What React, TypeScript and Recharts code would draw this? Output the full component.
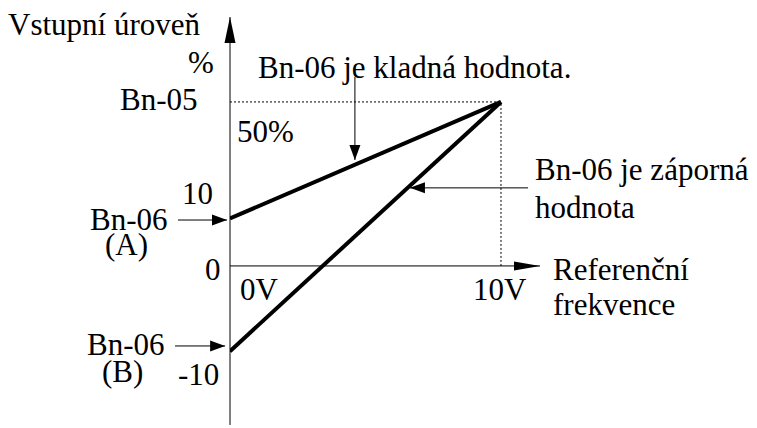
import React from 'react'
import {
  LineChart,
  Line,
  XAxis,
  YAxis,
  ReferenceLine,
  ReferenceDot,
} from 'recharts'

// reference voltage (V) and input level (% of Bn-05 = 100)
const voltage = [0, 10]
const levelPositive = [29, 100] // Bn-06 (A) > 0
const levelNegative = [-52, 100] // Bn-06 (B) < 0
const gainLevel = 100

const xDomain = [0, 11.44]
const yDomain = [-97, 151.8]

// annotation arrows, in data units: [x1, y1, x2 (tip), y2 (tip)]
const arrowA = [-1.92, 28, -0.11, 28]
const arrowB = [-2.03, -48.8, -0.18, -48.8]
const arrowPos = [4.61, 115.2, 4.61, 64.6]
const arrowNeg = [11.0, 47.6, 6.64, 47.6]

const labels = [
  { text: 'Vstupní úroveň', x: 8, y: 35 },
  { text: '%', x: 188, y: 73 },
  { text: 'Bn-06 je kladná hodnota.', x: 258, y: 78 },
  { text: 'Bn-05', x: 120, y: 110 },
  { text: '50%', x: 237, y: 142 },
  { text: '10', x: 182, y: 204 },
  { text: 'Bn-06', x: 90, y: 230 },
  { text: '(A)', x: 105, y: 255 },
  { text: '0', x: 205, y: 280 },
  { text: '0V', x: 240, y: 300 },
  { text: '10V', x: 473, y: 300 },
  { text: 'Referenční', x: 553, y: 280 },
  { text: 'frekvence', x: 553, y: 315 },
  { text: 'Bn-06 je záporná', x: 535, y: 180 },
  { text: 'hodnota', x: 535, y: 218 },
  { text: 'Bn-06', x: 87, y: 355 },
  { text: '(B)', x: 102, y: 382 },
  { text: '-10', x: 178, y: 385 },
]

const data = voltage.map((v, i) => ({ v, a: levelPositive[i], b: levelNegative[i] }))

// triangle head pointing in a direction
const head = (dir: 'up' | 'down' | 'left' | 'right', len: number, half: number) =>
  (props: any) => {
    const { cx, cy } = props
    let d = ''
    if (dir === 'up') d = `M${cx},${cy} L${cx - half},${cy + len} L${cx + half},${cy + len} Z`
    if (dir === 'down') d = `M${cx},${cy} L${cx - half},${cy - len} L${cx + half},${cy - len} Z`
    if (dir === 'left') d = `M${cx},${cy} L${cx + len},${cy - half} L${cx + len},${cy + half} Z`
    if (dir === 'right') d = `M${cx},${cy} L${cx - len},${cy - half} L${cx - len},${cy + half} Z`
    return <path d={d} fill="#000" stroke="none" />
  }

const arrow = (a: number[], dir: 'up' | 'down' | 'left' | 'right', key: string) => [
  <ReferenceLine
    key={key + '-l'}
    segment={[{ x: a[0], y: a[1] }, { x: a[2], y: a[3] }]}
    stroke="#000"
    strokeWidth={1}
    ifOverflow="visible"
  />,
  <ReferenceDot key={key + '-h'} x={a[2]} y={a[3]} r={0} ifOverflow="visible" shape={head(dir, 15, 5.5)} />,
]

export default function App() {
  return (
    <div style={{ position: 'absolute', left: 0, top: 0, width: 757, height: 428, background: '#fff' }}>
      <LineChart
        width={757}
        height={428}
        data={data}
        margin={{ top: 17, right: 217, bottom: 3, left: 230 }}
      >
        <XAxis type="number" dataKey="v" domain={xDomain} hide allowDataOverflow />
        <YAxis type="number" domain={yDomain} hide allowDataOverflow />

        {/* axes */}
        <ReferenceLine x={0} stroke="#000" strokeWidth={1} />
        <ReferenceLine y={0} stroke="#000" strokeWidth={1} />
        <ReferenceDot x={0} y={yDomain[1]} r={0} shape={head('up', 26, 5.5)} />
        <ReferenceDot x={xDomain[1]} y={0} r={0} shape={head('right', 26, 4.5)} />

        {/* guides to Bn-05 at 10V */}
        <ReferenceLine
          segment={[{ x: 0, y: gainLevel }, { x: 10, y: gainLevel }]}
          stroke="#000"
          strokeWidth={1}
          strokeDasharray="2 2"
        />
        <ReferenceLine
          segment={[{ x: 10, y: 0 }, { x: 10, y: gainLevel }]}
          stroke="#000"
          strokeWidth={1}
          strokeDasharray="2 2"
        />

        {arrow(arrowA, 'right', 'a')}
        {arrow(arrowB, 'right', 'b')}
        {arrow(arrowPos, 'down', 'p')}
        {arrow(arrowNeg, 'left', 'n')}

        <Line dataKey="a" type="linear" stroke="#000" strokeWidth={4} dot={false} isAnimationActive={false} />
        <Line dataKey="b" type="linear" stroke="#000" strokeWidth={4} dot={false} isAnimationActive={false} />
      </LineChart>

      <svg
        width={757}
        height={428}
        style={{ position: 'absolute', left: 0, top: 0, pointerEvents: 'none', fontFamily: '"Liberation Serif", "Times New Roman", serif' }}
      >
        {labels.map((l, i) => (
          <text key={i} x={l.x} y={l.y} style={{ fontFamily: '"Liberation Serif", "Times New Roman", serif', fontSize: 31 }} fill="#000">
            {l.text}
          </text>
        ))}
      </svg>
    </div>
  )
}
